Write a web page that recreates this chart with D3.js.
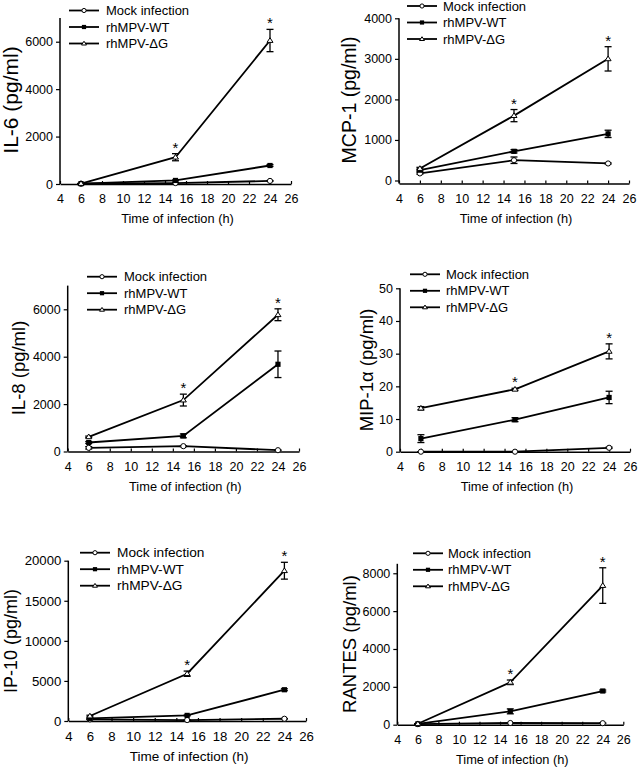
<!DOCTYPE html>
<html><head><meta charset="utf-8">
<script src="https://cdn.jsdelivr.net/npm/d3@7"></script>
<style>body{margin:0;background:#fff}text{font-family:"Liberation Sans",Arial,sans-serif;fill:#000}</style>
</head><body><svg id="c" width="638" height="769"></svg>
<script>
// ---- data ----
const hours = [6, 15, 24];
const xTicks = [4, 6, 8, 10, 12, 14, 16, 18, 20, 22, 24, 26];
const seriesNames = ["Mock infection", "rhMPV-WT", "rhMPV-\u0394G"];
const xTitle = "Time of infection (h)";
const starHours = [15, 24];

const il6Mock = [10, 40, 130],   il6MockErr = [5, 10, 15];
const il6WT = [15, 150, 780],    il6WTErr = [5, 20, 40];
const il6DG = [20, 1130, 6050],  il6DGErr = [5, 150, 470];
const il6Ticks = [0, 2000, 4000, 6000];

const mcp1Mock = [175, 500, 420],  mcp1MockErr = [20, 80, 15];
const mcp1WT = [255, 720, 1150],   mcp1WTErr = [30, 40, 90];
const mcp1DG = [295, 1600, 3000],  mcp1DGErr = [30, 150, 300];
const mcp1Ticks = [0, 1000, 2000, 3000, 4000];

const il8Mock = [155, 225, 55],   il8MockErr = [50, 20, 10];
const il8WT = [380, 660, 3680],   il8WTErr = [40, 80, 560];
const il8DG = [620, 2170, 5770],  il8DGErr = [30, 250, 250];
const il8Ticks = [0, 2000, 4000, 6000];

const mip1aMock = [0, 0, 1.2],    mip1aMockErr = [0, 0, 0.2];
const mip1aWT = [4.0, 9.8, 16.6], mip1aWTErr = [1.2, 0.6, 1.9];
const mip1aDG = [13.3, 19.1, 30.7], mip1aDGErr = [0.5, 0.3, 2.3];
const mip1aTicks = [0, 10, 20, 30, 40, 50];

const ip10Mock = [200, 120, 280],   ip10MockErr = [30, 20, 30];
const ip10WT = [330, 700, 3900],    ip10WTErr = [40, 60, 120];
const ip10DG = [620, 5900, 18750],  ip10DGErr = [100, 330, 1050];
const ip10Ticks = [0, 5000, 10000, 15000, 20000];

const rantesMock = [30, 90, 80],    rantesMockErr = [10, 10, 10];
const rantesWT = [40, 705, 1780],   rantesWTErr = [10, 130, 50];
const rantesDG = [50, 2240, 7350],  rantesDGErr = [10, 120, 940];
const rantesTicks = [0, 2000, 4000, 6000, 8000];

// ---- layout (pixel geometry per panel) ----
const panels = [
  {label:"IL-6 (pg/ml)", labelSize:21, labelX:11, labelY:100, yTop:7000, ticks:il6Ticks,
   vals:[il6Mock, il6WT, il6DG], errs:[il6MockErr, il6WTErr, il6DGErr],
   x0:60, x1:291, y0:184, y1:18, axisOff:0, leg:[69, 99, 106, 10.5], fs:12.5},
  {label:"MCP-1 (pg/ml)", labelSize:19.5, labelX:349, labelY:100, yTop:4000, ticks:mcp1Ticks,
   vals:[mcp1Mock, mcp1WT, mcp1DG], errs:[mcp1MockErr, mcp1WTErr, mcp1DGErr],
   x0:399, x1:629, y0:180.5, y1:18.3, axisOff:3, leg:[407, 437, 443, 6], fs:12.5},
  {label:"IL-8 (pg/ml)", labelSize:18.5, labelX:19, labelY:368, yTop:7000, ticks:il8Ticks,
   vals:[il8Mock, il8WT, il8DG], errs:[il8MockErr, il8WTErr, il8DGErr],
   x0:67.7, x1:299, y0:451.5, y1:285.6, axisOff:0, leg:[87, 117, 124, 276.7], fs:12.5},
  {label:"MIP-1\u03b1 (pg/ml)", labelSize:18.5, labelX:367, labelY:370, yTop:50, ticks:mip1aTicks,
   vals:[mip1aMock, mip1aWT, mip1aDG], errs:[mip1aMockErr, mip1aWTErr, mip1aDGErr],
   x0:400, x1:630, y0:451.7, y1:288.3, axisOff:0, leg:[410, 440, 446, 274.3], fs:12.5},
  {label:"IP-10 (pg/ml)", labelSize:18, labelX:11, labelY:641, yTop:20000, ticks:ip10Ticks,
   vals:[ip10Mock, ip10WT, ip10DG], errs:[ip10MockErr, ip10WTErr, ip10DGErr],
   x0:68.3, x1:306, y0:721, y1:560.7, axisOff:0, leg:[80, 110, 117, 552.7], fs:13.2},
  {label:"RANTES (pg/ml)", labelSize:18.5, labelX:350, labelY:644, yTop:8500, ticks:rantesTicks,
   vals:[rantesMock, rantesWT, rantesDG], errs:[rantesMockErr, rantesWTErr, rantesDGErr],
   x0:397.3, x1:623.3, y0:724.7, y1:563.8, axisOff:0, leg:[413, 443, 448, 553.3], fs:12.5}
];

const svg = d3.select("#c");
const markerTypes = ["circle", "square", "triangle"];

function marker(g, type, cx, cy, s) {
  if (type === "circle") {
    g.append("circle").attr("cx", cx).attr("cy", cy).attr("r", s)
      .attr("fill", "#fff").attr("stroke", "#000").attr("stroke-width", 1);
  } else if (type === "square") {
    g.append("rect").attr("x", cx - s).attr("y", cy - s).attr("width", 2 * s).attr("height", 2 * s)
      .attr("fill", "#000");
  } else {
    const h = s * 1.8;
    g.append("path").attr("d", `M${cx},${cy - h * 0.6}L${cx + s + 0.4},${cy + h * 0.4}L${cx - s - 0.4},${cy + h * 0.4}Z`)
      .attr("fill", "#fff").attr("stroke", "#000").attr("stroke-width", 1);
  }
}

panels.forEach(p => {
  const g = svg.append("g");
  const x = d3.scaleLinear().domain([4, 26]).range([p.x0, p.x1]);
  const y = d3.scaleLinear().domain([0, p.yTop]).range([p.y0, p.y1]);
  const axisY = p.y0 + p.axisOff;

  // y axis
  const ya = g.append("g").attr("transform", `translate(${p.x0},0)`)
    .call(d3.axisLeft(y).tickValues(p.ticks).tickSize(4).tickSizeOuter(0).tickPadding(3).tickFormat(d3.format("d")));
  ya.select(".domain").remove();
  ya.append("line").attr("x1", 0).attr("x2", 0).attr("y1", axisY).attr("y2", p.y1)
    .attr("stroke", "#000").attr("stroke-width", 1.5);
  ya.selectAll(".tick line").attr("stroke-width", 1.2);
  ya.selectAll(".tick text").style("font-size", p.fs + "px").style("font-family", '"Liberation Sans",Arial,sans-serif');

  // x axis
  const xa = g.append("g").attr("transform", `translate(0,${axisY})`)
    .call(d3.axisBottom(x).tickValues(xTicks).tickSize(-3).tickSizeOuter(0).tickPadding(10.5).tickFormat(d3.format("d")));
  xa.select(".domain").attr("stroke-width", 1.5);
  xa.selectAll(".tick line").attr("stroke-width", 1.2);
  xa.selectAll(".tick text").style("font-size", p.fs + "px").style("font-family", '"Liberation Sans",Arial,sans-serif');

  // x title
  g.append("text").attr("x", (p.x0 + p.x1) / 2 + 2).attr("y", axisY + 35).attr("dy", "0.35em")
    .attr("text-anchor", "middle").style("font-size", (p.fs + 0.3) + "px").text(xTitle);

  // y title
  g.append("text").attr("transform", `translate(${p.labelX},${p.labelY}) rotate(-90)`)
    .attr("dy", "0.35em").attr("text-anchor", "middle").style("font-size", p.labelSize + "px").text(p.label);

  // lines
  const line = d3.line().x(d => x(d[0])).y(d => y(d[1]));
  p.vals.forEach((vals, si) => {
    g.append("path").datum(hours.map((h, i) => [h, vals[i]])).attr("d", line)
      .attr("fill", "none").attr("stroke", "#000").attr("stroke-width", 1.8);
  });
  // error bars
  p.vals.forEach((vals, si) => {
    hours.forEach((h, i) => {
      const e = p.errs[si][i];
      const cx = x(h), top = y(vals[i] + e), bot = y(Math.max(vals[i] - e, 0));
      g.append("line").attr("x1", cx).attr("x2", cx).attr("y1", top).attr("y2", bot)
        .attr("stroke", "#000").attr("stroke-width", 1.3);
      [top, bot].forEach(yy => g.append("line").attr("x1", cx - 3.5).attr("x2", cx + 3.5)
        .attr("y1", yy).attr("y2", yy).attr("stroke", "#000").attr("stroke-width", 1.3));
    });
  });
  // markers
  p.vals.forEach((vals, si) => {
    hours.forEach((h, i) => marker(g, markerTypes[si], x(h), y(vals[i]), 2.6));
  });
  // stars
  const dg = p.vals[2], dge = p.errs[2];
  starHours.forEach(h => {
    const i = hours.indexOf(h);
    g.append("text").attr("x", x(h)).attr("y", y(dg[i] + dge[i]) - 1)
      .attr("text-anchor", "middle").style("font-size", "15px").text("*");
  });

  // legend
  const [lx1, lx2, tx, ly0] = p.leg;
  seriesNames.forEach((name, si) => {
    const yy = ly0 + si * 16.5;
    g.append("line").attr("x1", lx1).attr("x2", lx2).attr("y1", yy).attr("y2", yy)
      .attr("stroke", "#000").attr("stroke-width", 1.8);
    marker(g, markerTypes[si], (lx1 + lx2) / 2, yy, 2.1);
    g.append("text").attr("x", tx).attr("y", yy).attr("dy", "0.35em")
      .style("font-size", (p.fs + 0.5) + "px").text(name);
  });
});
</script></body></html>
